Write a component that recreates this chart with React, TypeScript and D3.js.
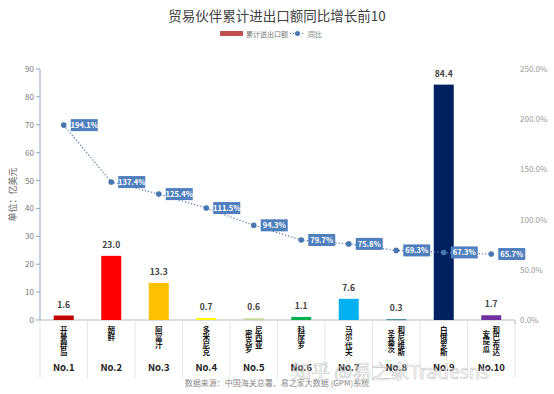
import React from 'react';
import * as d3 from 'd3';

// chart data
const categories = ['开曼群岛', '朝鲜', '阿富汗', '多米尼克', '密克罗尼西亚', '科摩罗', '马尔代夫', '圣基茨和尼维斯', '白俄罗斯', '安提瓜和巴布达'];
const ranks = ['No.1', 'No.2', 'No.3', 'No.4', 'No.5', 'No.6', 'No.7', 'No.8', 'No.9', 'No.10'];
const amounts = [1.6, 23.0, 13.3, 0.7, 0.6, 1.1, 7.6, 0.3, 84.4, 1.7];
const growth = [194.1, 137.4, 125.4, 111.5, 94.3, 79.7, 75.8, 69.3, 67.3, 65.7];
const barColors = ['#C00000', '#FF0000', '#FFC000', '#FFFF00', '#C4D79B', '#00B050', '#00B0F0', '#31859C', '#002060', '#7030A0'];
const leftTicks = [0, 10, 20, 30, 40, 50, 60, 70, 80, 90];
const rightTicks = [0, 50, 100, 150, 200, 250];

const W = 554;
const H = 394;
const pad = { left: 40, right: 39, top: 69, bottom: 74 };
const font = '"Noto Sans CJK SC", "Noto Sans", sans-serif';
const lineColor = '#4A76B0';

export default function App() {
    const plotBottom = H - pad.bottom;
    const x = d3.scaleBand<number>()
        .domain(d3.range(categories.length))
        .range([pad.left, W - pad.right]);
    const yL = d3.scaleLinear().domain([0, 90]).range([plotBottom, pad.top]);
    const yR = d3.scaleLinear().domain([0, 250]).range([plotBottom, pad.top]);
    const barW = 20;
    const cx = (i: number) => (x(i) as number) + x.bandwidth() / 2;

    const line = d3.line<number>()
        .x((_, i) => cx(i))
        .y(d => yR(d));

    return (
        <svg width={W} height={H} style={{ position: 'absolute', left: 0, top: 0, background: '#fff' }} fontFamily={font}>
            {/* title + legend */}
            <text x={W / 2} y={21} textAnchor="middle" fontSize={13.5} fill="#404040">贸易伙伴累计进出口额同比增长前10</text>
            <rect x={220} y={31} width={23} height={5} fill="#C0504D" />
            <text x={246} y={36.5} fontSize={7} fill="#777">累计进出口额</text>
            <line x1={290} x2={305} y1={33.5} y2={33.5} stroke={lineColor} strokeDasharray="1.2,1.8" />
            <circle cx={297.5} cy={33.5} r={2.5} fill={lineColor} />
            <text x={308} y={36.5} fontSize={7} fill="#777">同比</text>

            {/* left axis */}
            <line x1={pad.left} x2={pad.left} y1={pad.top} y2={plotBottom} stroke="#8DA6C4" />
            {leftTicks.map(t => (
                <g key={'l' + t}>
                    <line x1={pad.left - 4} x2={pad.left} y1={yL(t)} y2={yL(t)} stroke="#8DA6C4" />
                    <text x={pad.left - 6} y={yL(t) + 3} textAnchor="end" fontSize={8} fill="#777">{t}</text>
                </g>
            ))}
            <text transform={`translate(16,${(pad.top + plotBottom) / 2}) rotate(-90)`} textAnchor="middle" fontSize={9} fill="#666">单位：亿美元</text>

            {/* right axis labels */}
            {rightTicks.map(t => (
                <text key={'r' + t} x={520} y={yR(t) + 3} fontSize={8} fill="#999">{t.toFixed(1)}%</text>
            ))}

            {/* baseline and category separators */}
            <line x1={pad.left} x2={W - pad.right} y1={plotBottom} y2={plotBottom} stroke="#B8B8B8" />
            {d3.range(categories.length + 1).map(i => {
                const xx = i < categories.length ? (x(i) as number) : W - pad.right;
                return <line key={'s' + i} x1={xx} x2={xx} y1={plotBottom} y2={378} stroke="#E3E3E3" />;
            })}
            <line x1={W - pad.right} x2={W - pad.right} y1={plotBottom} y2={plotBottom + 4} stroke="#B8B8B8" />

            {/* bars */}
            {amounts.map((v, i) => (
                <g key={'b' + i}>
                    <rect x={cx(i) - barW / 2} y={yL(v)} width={barW} height={Math.max(plotBottom - yL(v), 1)} fill={barColors[i]} />
                    <text x={cx(i)} y={yL(v) - 8} textAnchor="middle" fontSize={8.5} fontWeight="bold" fill="#404040">{v.toFixed(1)}</text>
                </g>
            ))}

            {/* category labels, stacked vertically */}
            {categories.map((name, i) => {
                const cols = name.length > 4 ? [name.slice(0, 3), name.slice(3)] : [name];
                return (
                    <g key={'c' + i}>
                        {cols.map((col, ci) => {
                            const colX = cols.length === 1 ? cx(i) : cx(i) + (ci === 0 ? -5 : 5);
                            const y0 = cols.length === 2 && ci === 0 ? 330 : 326;
                            return (
                                <text key={ci} x={colX} y={y0} fontSize={7.5} fontWeight="bold" fill="#111"
                                    style={{ writingMode: 'vertical-rl' }}>{col}</text>
                            );
                        })}
                        <text x={cx(i)} y={371} textAnchor="middle" fontSize={9.5} fontWeight="bold" fill="#222">{ranks[i]}</text>
                    </g>
                );
            })}

            {/* growth line */}
            <path d={line(growth) || ''} fill="none" stroke={lineColor} strokeWidth={1.2} strokeDasharray="1.2,2" />
            {growth.map((g, i) => (
                <g key={'p' + i}>
                    <circle cx={cx(i)} cy={yR(g)} r={2.8} fill={lineColor} />
                    <rect x={cx(i) + 7} y={yR(g) - 6} width={27} height={12} fill="#4F7FBD" />
                    <text x={cx(i) + 20.5} y={yR(g) + 2.8} textAnchor="middle" fontSize={7.5} fontWeight="bold" fill="#fff">{g.toFixed(1)}%</text>
                </g>
            ))}

            {/* source */}
            <text x={W / 2} y={386} textAnchor="middle" fontSize={8} fill="#888">数据来源：中国海关总署、易之家大数据 (GPM)系统</text>
            {/* watermark */}
            <text x={292} y={379} fontSize={19} fill="#fff" fillOpacity={0.5} stroke="#999" strokeOpacity={0.6} strokeWidth={0.6}>知乎 @易之家Tradesns</text>
        </svg>
    );
}
